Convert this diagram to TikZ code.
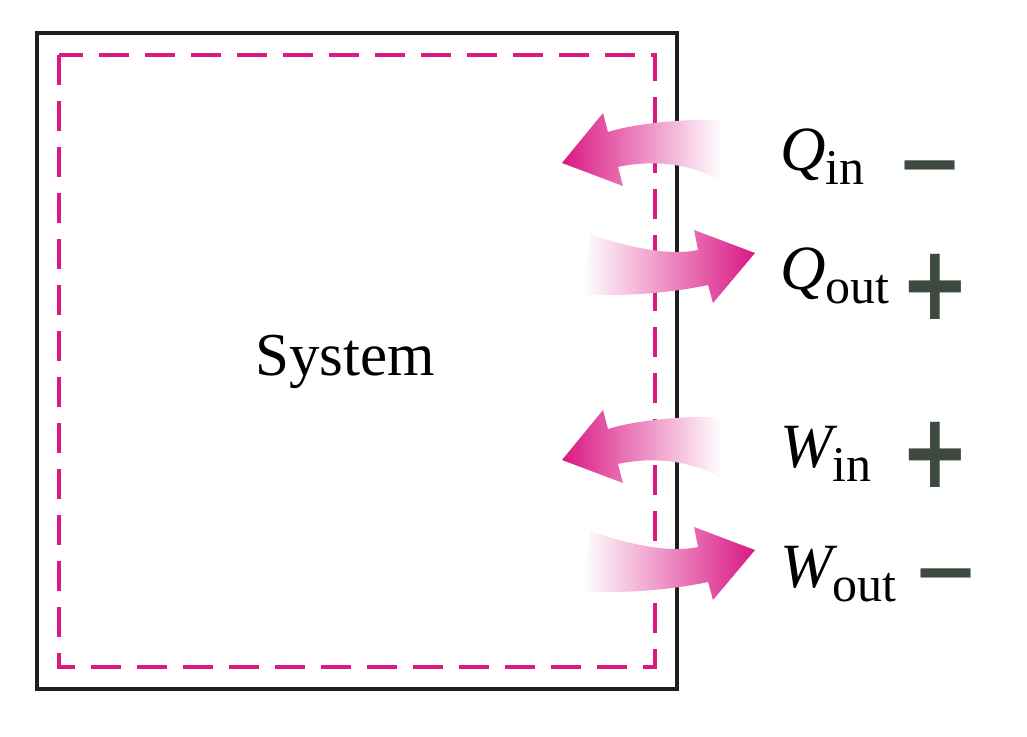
\documentclass[tikz,border=0pt]{standalone}
\usepackage{fontspec}
\setmainfont{Liberation Serif}
\newfontfamily\signfont{DejaVu Sans Bold}
\usepackage{xcolor}

\definecolor{sysmag}{RGB}{218,24,132}
\definecolor{signgray}{RGB}{62,74,64}
\definecolor{boxblack}{RGB}{30,30,30}

\newcommand{\flowlbl}[2]{{\itshape #1}\raisebox{-14pt}{\fontsize{50}{50}\selectfont #2}}

\begin{document}
\begin{tikzpicture}[x=1pt,y=-1pt,
    systext/.style={font=\fontsize{61}{61}\selectfont, inner sep=0pt, anchor=base},
    flowtext/.style={font=\fontsize{63}{63}\selectfont, inner sep=0pt, anchor=base west},
    sign/.style={font=\fontsize{80}{80}\signfont, text=signgray, inner sep=0pt},
    inflow/.style={left color=sysmag, right color=white},
    outflow/.style={left color=white, right color=sysmag}]
        \useasboundingbox (0,0) rectangle (1027,736);
        % system and its boundary
        \draw [boxblack, line width=4pt] (37,33) rectangle (677,689);
        \draw [sysmag, line width=3.6pt, dash pattern=on 30pt off 16pt] (59,55) rectangle (655,667);
        \node [systext] (sys) at (345,375) {System};

        % heat and work arrows
        \foreach \dy in {0,297}{
            \shade [inflow, shift={(0,\dy)}] (722,120) .. controls (690,119) and (640,122) .. (608,132)
                -- (603,113) -- (562,163) -- (623,186) -- (618,167)
                .. controls (650,160) and (690,162) .. (722,182) -- cycle;
            \shade [outflow, shift={(0,\dy)}] (590,234) .. controls (630,248) and (670,256) .. (698,250)
                -- (694,230) -- (755,253) -- (713,303) -- (708,285)
                .. controls (670,293) and (630,296) .. (583,295) -- cycle;
        }

        \node [flowtext] (qin) at (780,170) {\flowlbl{Q}{in}};
        \node [flowtext] (qout) at (780,289) {\flowlbl{Q}{out}};
        \node [flowtext] (win) at (780,467) {\flowlbl{W}{in}};
        \node [flowtext] (wout) at (780,587) {\flowlbl{W}{out}};

        % sign convention
        \node [sign] (sqin) at (930,176) {\char"2212};
        \node [sign] (sqout) at (935,287) {\scalebox{1.04}[1.3]{+}};
        \node [sign] (swin) at (935,455) {\scalebox{1.04}[1.3]{+}};
        \node [sign] (swout) at (946,584) {\char"2212};
    \end{tikzpicture}
\end{document}
